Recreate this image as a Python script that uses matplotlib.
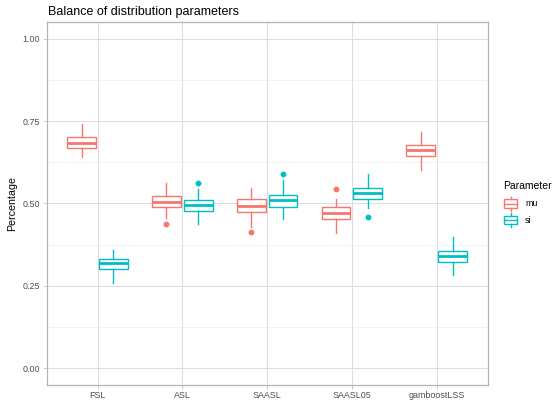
import matplotlib
matplotlib.use("Agg")
import matplotlib.pyplot as plt
from matplotlib.patches import Rectangle
from matplotlib.lines import Line2D
from matplotlib.ticker import MultipleLocator, FormatStrFormatter

plt.rcParams['font.family'] = ['Liberation Sans', 'DejaVu Sans']

# ---- data -----------------------------------------------------------------
methods = ["FSL", "ASL", "SAASL", "SAASL05", "gamboostLSS"]
params = ["mu", "si"]

# five-number summaries per method: (whisker low, Q1, median, Q3, whisker high)
mu_whislo = [0.641, 0.456, 0.429, 0.411, 0.602]
mu_q1     = [0.668, 0.490, 0.475, 0.454, 0.645]
mu_med    = [0.683, 0.504, 0.492, 0.470, 0.662]
mu_q3     = [0.701, 0.522, 0.513, 0.488, 0.679]
mu_whishi = [0.742, 0.563, 0.548, 0.514, 0.717]
mu_fliers = [[], [0.438], [0.412], [0.543], []]

si_whislo = [0.259, 0.437, 0.454, 0.487, 0.283]
si_q1     = [0.300, 0.478, 0.488, 0.513, 0.322]
si_med    = [0.318, 0.496, 0.510, 0.533, 0.340]
si_q3     = [0.332, 0.511, 0.525, 0.546, 0.355]
si_whishi = [0.358, 0.545, 0.571, 0.590, 0.398]
si_fliers = [[], [0.563], [0.589], [0.458], []]

y_ticks = [0.00, 0.25, 0.50, 0.75, 1.00]

colors = {"mu": "#F8766D", "si": "#00BFC4"}

# ---- figure ---------------------------------------------------------------
W, H = 552, 403
fig = plt.figure(figsize=(W / 100, H / 100), dpi=100)
ax = fig.add_axes([46.7 / W, 1 - 384.5 / H, (487.5 - 46.7) / W, (384.5 - 22.5) / H])

def make_stats(lo, q1, med, q3, hi, fl):
    return [dict(whislo=a, q1=b, med=c, q3=d, whishi=e, fliers=f)
            for a, b, c, d, e, f in zip(lo, q1, med, q3, hi, fl)]

series = {
    "mu": make_stats(mu_whislo, mu_q1, mu_med, mu_q3, mu_whishi, mu_fliers),
    "si": make_stats(si_whislo, si_q1, si_med, si_q3, si_whishi, si_fliers),
}
offsets = {"mu": -0.1875, "si": 0.1875}
box_w = 0.34
lw = 1.0

for p in params:
    c = colors[p]
    pos = [i + 1 + offsets[p] for i in range(len(methods))]
    ax.bxp(series[p], positions=pos, widths=box_w, patch_artist=True,
           showcaps=False, manage_ticks=False,
           boxprops=dict(facecolor="white", edgecolor=c, linewidth=lw),
           whiskerprops=dict(color=c, linewidth=lw),
           medianprops=dict(color=c, linewidth=2.0, solid_capstyle="butt"),
           flierprops=dict(marker="o", markerfacecolor=c, markeredgecolor=c,
                           markersize=3.2, linestyle="none"),
           zorder=3)

# ---- axes styling (light theme) ------------------------------------------
ax.set_xlim(0.4, 5.6)
ax.set_ylim(-0.05, 1.05)
ax.set_xticks(range(1, len(methods) + 1))
ax.set_xticklabels(methods)
ax.set_yticks(y_ticks)
ax.yaxis.set_major_formatter(FormatStrFormatter("%.2f"))
ax.yaxis.set_minor_locator(MultipleLocator(0.125))

ax.grid(True, which="major", axis="both", color="#DEDEDE", linewidth=0.75, zorder=0)
ax.grid(True, which="minor", axis="y", color="#E6E6E6", linewidth=0.4, zorder=0)
ax.set_axisbelow(True)
ax.tick_params(axis="y", which="minor", length=0)
ax.tick_params(which="major", length=2.7, width=0.5, color="#B3B3B3",
               labelsize=6.4, labelcolor="#4D4D4D", pad=2)
for s in ax.spines.values():
    s.set_color("#B3B3B3")
    s.set_linewidth(0.9)

ax.set_ylabel("Percentage", fontsize=7.7, color="black")
ax.yaxis.set_label_coords((17.3 - 46.7) / (487.5 - 46.7), 0.5)
fig.text(48 / W, 1 - 15 / H, "Balance of distribution parameters",
         fontsize=9.0, color="black", ha="left", va="baseline")

# ---- legend ---------------------------------------------------------------
fig.text(503 / W, 1 - 185.5 / H, "Parameter", fontsize=7.5,
         ha="left", va="center")
key_rows = [203.7, 220.0]
for p, yc in zip(params, key_rows):
    c = colors[p]
    x0, x1 = 504.0, 517.0
    xm = (x0 + x1) / 2
    h = 17.0
    # whiskers
    fig.add_artist(Line2D([xm / W, xm / W],
                          [1 - (yc + 0.4 * h) / H, 1 - (yc + 0.25 * h) / H],
                          color=c, linewidth=lw))
    fig.add_artist(Line2D([xm / W, xm / W],
                          [1 - (yc - 0.25 * h) / H, 1 - (yc - 0.4 * h) / H],
                          color=c, linewidth=lw))
    fig.add_artist(Rectangle((x0 / W, 1 - (yc + 0.25 * h) / H),
                             (x1 - x0) / W, 0.5 * h / H,
                             facecolor="white", edgecolor=c, linewidth=lw))
    fig.add_artist(Line2D([x0 / W, x1 / W], [1 - yc / H, 1 - yc / H],
                          color=c, linewidth=lw))
    fig.text(525 / W, 1 - yc / H, p, fontsize=6.4, ha="left", va="center")

fig.savefig("out.png", dpi=100)
